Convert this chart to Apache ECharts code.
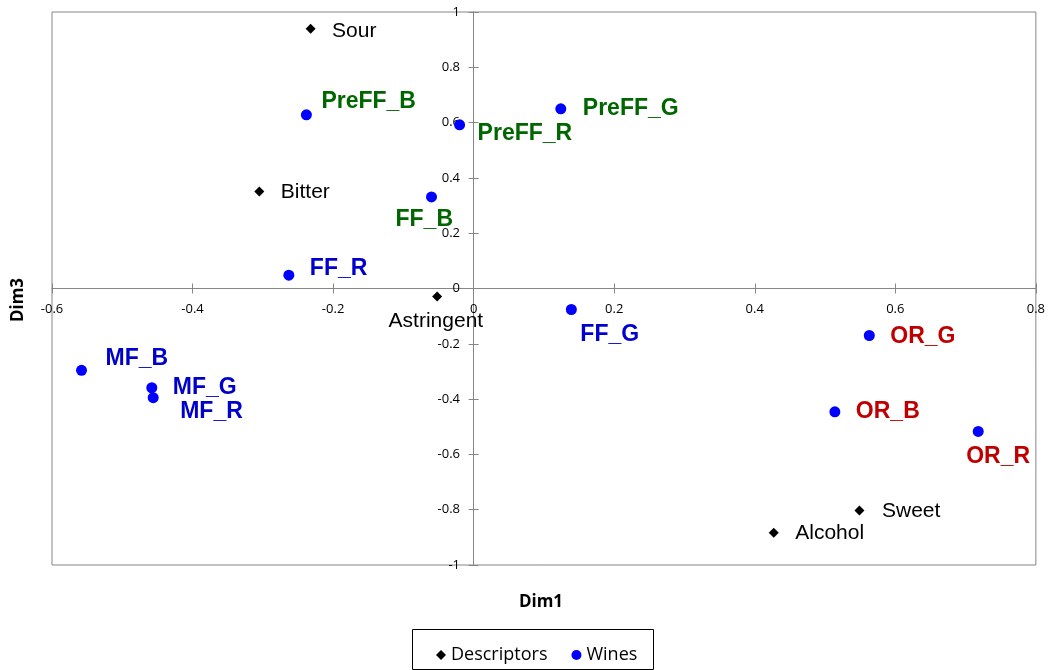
<!DOCTYPE html>
<html>
<head>
<meta charset="utf-8">
<script src="https://cdn.jsdelivr.net/npm/echarts@6/dist/echarts.min.js"></script>
<style>
html,body{margin:0;padding:0;background:#fff;}
#chart{width:1048px;height:670px;}
</style>
</head>
<body>
<div id="chart"></div>
<script>
// ---- Data ----
const xTicks = [-0.6, -0.4, -0.2, 0, 0.2, 0.4, 0.6, 0.8];
const yTicks = [-1, -0.8, -0.6, -0.4, -0.2, 0, 0.2, 0.4, 0.6, 0.8, 1];

const descNames = ['Sour', 'Bitter', 'Astringent', 'Sweet', 'Alcohol'];
const descDim1  = [-0.232, -0.305, -0.052, 0.549, 0.427];
const descDim3  = [0.939, 0.351, -0.029, -0.803, -0.883];

const wineNames = ['PreFF_B', 'PreFF_R', 'PreFF_G', 'FF_B', 'FF_R', 'FF_G', 'MF_B', 'MF_G', 'MF_R', 'OR_G', 'OR_B', 'OR_R'];
const wineDim1  = [-0.238, -0.020, 0.124, -0.060, -0.263, 0.139, -0.558, -0.458, -0.456, 0.563, 0.514, 0.718];
const wineDim3  = [0.628, 0.592, 0.650, 0.331, 0.048, -0.076, -0.296, -0.359, -0.395, -0.170, -0.446, -0.517];

// ---- Label styling (offsets in px relative to point, colours) ----
const GREEN = '#006600', BLUE = '#0000CC', RED = '#C00000';
const wineLabelStyle = {
  'PreFF_B': {off: [9.5, -13], color: GREEN},
  'PreFF_R': {off: [12.5, 9], color: GREEN},
  'PreFF_G': {off: [16.5, 0], color: GREEN},
  'FF_B':    {off: [-41.5, 23], color: GREEN},
  'FF_R':    {off: [15.5, -7], color: BLUE},
  'FF_G':    {off: [3.5, 25], color: BLUE},
  'MF_B':    {off: [18.5, -12], color: BLUE},
  'MF_G':    {off: [15.5, 0], color: BLUE},
  'MF_R':    {off: [21.5, 14], color: BLUE},
  'OR_G':    {off: [15.5, 1], color: RED},
  'OR_B':    {off: [15.5, 0], color: RED},
  'OR_R':    {off: [-17.5, 25], color: RED}
};
const descLabelOff = {
  'Sour': [16.5, 2],
  'Bitter': [16.5, 1],
  'Astringent': [-53.5, 25],
  'Sweet': [17.5, 1],
  'Alcohol': [16.5, 1]
};

const descData = descNames.map((n, i) => ({
  name: n,
  value: [descDim1[i], descDim3[i]],
  label: {offset: descLabelOff[n]}
}));
const wineData = wineNames.map((n, i) => ({
  name: n,
  value: [wineDim1[i], wineDim3[i]],
  label: {offset: wineLabelStyle[n].off, color: wineLabelStyle[n].color}
}));

const AXC = '#868686';
const tickFont = {fontFamily: 'Open Sans', fontSize: 13, color: '#000'};

function fmt(v) {
  const r = Math.round(v * 10) / 10;
  return String(r);
}

const xBase = {
  type: 'value', min: xTicks[0], max: xTicks[xTicks.length - 1], interval: 0.2,
  splitLine: {show: false}
};
const yBase = {
  type: 'value', min: yTicks[0], max: yTicks[yTicks.length - 1], interval: 0.2,
  splitLine: {show: false}
};

const chart = echarts.init(document.getElementById('chart'), null, {renderer: 'canvas'});
chart.setOption({
  animation: false,
  backgroundColor: '#fff',
  grid: {left: 52, top: 12, right: 12, bottom: 105, show: true, borderColor: AXC, borderWidth: 1, backgroundColor: 'transparent'},
  xAxis: [
    Object.assign({}, xBase, {
      position: 'bottom',
      axisLine: {show: true, onZero: true, onZeroAxisIndex: 0, lineStyle: {color: AXC, width: 1}},
      axisTick: {show: true, length: 5, lineStyle: {color: AXC}},
      axisLabel: Object.assign({margin: -262, formatter: fmt}, tickFont)
    }),
    Object.assign({}, xBase, {
      position: 'bottom',
      axisLine: {show: true, onZero: true, onZeroAxisIndex: 1, lineStyle: {color: AXC, width: 1}},
      axisTick: {show: true, inside: true, length: 5, lineStyle: {color: AXC}},
      axisLabel: {show: false}
    })
  ],
  yAxis: [
    Object.assign({}, yBase, {
      position: 'left',
      axisLine: {show: true, onZero: true, onZeroAxisIndex: 0, lineStyle: {color: AXC, width: 1}},
      axisTick: {show: true, length: 5, lineStyle: {color: AXC}},
      axisLabel: Object.assign({margin: -408, formatter: fmt}, tickFont)
    }),
    Object.assign({}, yBase, {
      position: 'left',
      axisLine: {show: true, onZero: true, onZeroAxisIndex: 1, lineStyle: {color: AXC, width: 1}},
      axisTick: {show: true, inside: true, length: 5, lineStyle: {color: AXC}},
      axisLabel: {show: false}
    })
  ],
  legend: {
    left: 431, top: 641,
    itemWidth: 10, itemHeight: 10, itemGap: 24,
    textStyle: {fontFamily: 'Open Sans', fontSize: 18, color: '#000'},
    data: [
      {name: 'Descriptors', icon: 'diamond'},
      {name: 'Wines', icon: 'circle'}
    ]
  },
  graphic: [
    {type: 'rect', shape: {x: 412.5, y: 629.5, width: 241, height: 40}, style: {fill: 'none', stroke: '#000', lineWidth: 1}, silent: true},
    {type: 'text', x: 541, y: 602, style: {text: 'Dim1', font: 'bold 17px "Open Sans"', fill: '#000', textAlign: 'center', textVerticalAlign: 'middle'}},
    {type: 'text', x: 18, y: 300, rotation: Math.PI / 2, style: {text: 'Dim3', font: 'bold 17px "Open Sans"', fill: '#000', textAlign: 'center', textVerticalAlign: 'middle'}}
  ],
  series: [
    {
      name: 'Descriptors', type: 'scatter', xAxisIndex: 0, yAxisIndex: 0,
      symbol: 'diamond', symbolSize: 10,
      itemStyle: {color: '#000', opacity: 1},
      label: {show: true, position: 'right', distance: 0, formatter: '{b}',
              fontFamily: 'Liberation Sans', fontSize: 21, color: '#000'},
      data: descData
    },
    {
      name: 'Wines', type: 'scatter', xAxisIndex: 0, yAxisIndex: 0,
      symbol: 'circle', symbolSize: 11,
      itemStyle: {color: '#0000FF', opacity: 1},
      label: {show: true, position: 'right', distance: 0, formatter: '{b}',
              fontFamily: 'Liberation Sans', fontWeight: 'bold', fontSize: 23},
      data: wineData
    }
  ]
});
</script>
</body>
</html>
